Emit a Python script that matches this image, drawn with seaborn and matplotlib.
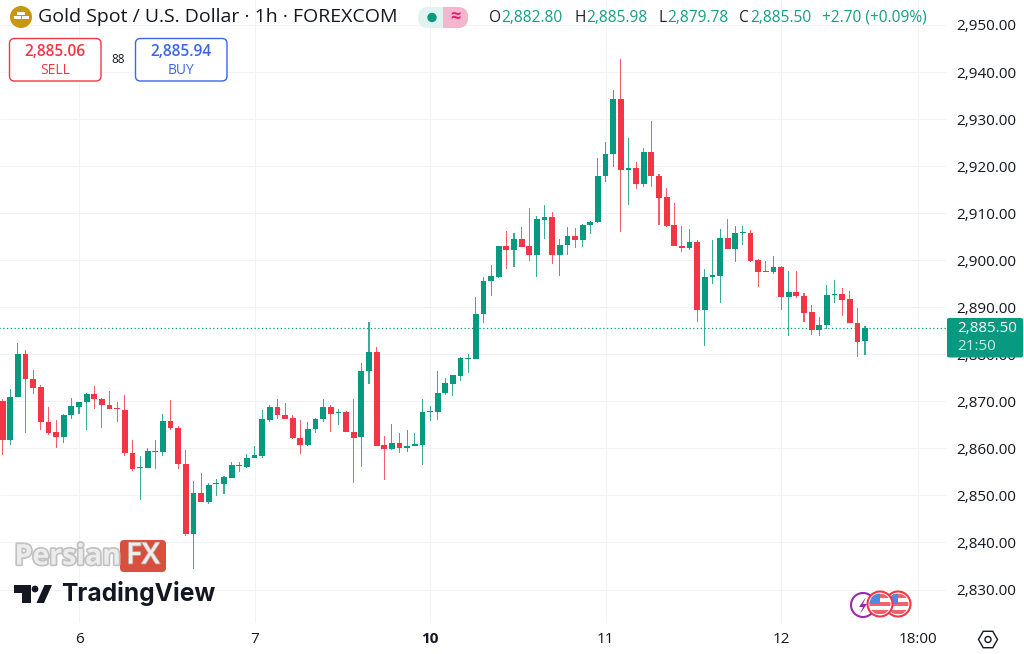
import numpy as np
import pandas as pd
import seaborn as sns
import matplotlib.pyplot as plt
from matplotlib.patches import Circle, FancyBboxPatch, Polygon, Rectangle, RegularPolygon
import matplotlib.patheffects as pe

# hourly candles
opens = [2870.1, 2861.7, 2871.0, 2880.0, 2874.8, 2873.0, 2865.5, 2863.4, 2862.5, 2867.1,
         2868.9, 2869.8, 2871.5, 2870.6, 2869.3, 2868.5, 2868.2, 2859.1, 2855.8, 2855.9,
         2859.5, 2859.2, 2865.8, 2864.4, 2856.7, 2841.9, 2850.6, 2848.7, 2852.4, 2852.5,
         2853.8, 2856.5, 2856.0, 2858.0, 2858.4, 2866.0, 2868.7, 2867.2, 2866.5, 2862.1,
         2860.7, 2864.1, 2866.2, 2868.9, 2867.6, 2867.7, 2863.5, 2862.4, 2876.5, 2880.4,
         2860.7, 2859.9, 2861.2, 2860.1, 2860.6, 2860.7, 2867.7, 2867.8, 2871.7, 2873.7,
         2875.4, 2879.0, 2879.1, 2888.5, 2895.5, 2896.5, 2903.1, 2902.2, 2904.6, 2903.0,
         2901.0, 2908.6, 2909.1, 2901.0, 2903.3, 2905.2, 2904.3, 2907.5, 2908.1, 2917.8,
         2922.6, 2934.2, 2919.2, 2919.7, 2916.3, 2923.1, 2917.8, 2913.4, 2907.4, 2903.1,
         2902.6, 2903.8, 2889.4, 2896.5, 2896.7, 2904.8, 2902.3, 2905.7, 2905.8, 2900.0,
         2897.7, 2897.5, 2898.6, 2892.1, 2893.3, 2892.4, 2888.9, 2885.2, 2886.2, 2892.6,
         2892.8, 2891.7, 2886.7, 2882.8]
highs = [2870.6, 2872.6, 2882.3, 2881.0, 2876.6, 2873.4, 2868.8, 2866.0, 2867.3, 2870.8,
         2869.9, 2871.8, 2873.3, 2870.7, 2872.2, 2869.8, 2871.3, 2861.8, 2858.4, 2860.0,
         2861.8, 2867.3, 2870.3, 2864.8, 2859.6, 2853.1, 2854.7, 2852.6, 2853.5, 2854.2,
         2857.2, 2857.2, 2858.8, 2860.4, 2868.2, 2869.2, 2870.6, 2869.6, 2867.0, 2866.0,
         2865.6, 2866.5, 2870.6, 2869.2, 2868.3, 2867.9, 2870.6, 2878.2, 2886.8, 2881.5,
         2862.6, 2865.2, 2863.3, 2863.8, 2863.3, 2870.4, 2869.0, 2876.5, 2874.9, 2875.7,
         2879.5, 2880.1, 2892.1, 2896.5, 2899.0, 2903.1, 2906.3, 2905.8, 2907.0, 2911.1,
         2909.3, 2911.7, 2910.2, 2904.5, 2907.1, 2906.8, 2907.8, 2908.4, 2921.7, 2925.2,
         2936.2, 2942.8, 2925.9, 2920.8, 2923.8, 2929.6, 2918.3, 2915.3, 2912.1, 2907.2,
         2906.6, 2904.2, 2898.2, 2904.3, 2906.6, 2908.7, 2907.2, 2907.2, 2906.5, 2900.3,
         2899.9, 2900.8, 2898.8, 2897.7, 2897.8, 2893.0, 2890.4, 2888.0, 2894.8, 2895.8,
         2894.0, 2893.4, 2889.8, 2885.98]
lows = [2858.6, 2860.7, 2871.0, 2863.2, 2871.5, 2863.8, 2862.9, 2860.0, 2861.2, 2866.2,
        2867.4, 2863.8, 2868.4, 2864.4, 2868.3, 2865.5, 2858.3, 2855.1, 2849.1, 2855.9,
        2855.7, 2858.3, 2863.8, 2855.7, 2841.3, 2834.3, 2848.7, 2848.2, 2849.9, 2850.4,
        2853.8, 2854.9, 2855.9, 2857.9, 2857.9, 2865.5, 2866.2, 2866.2, 2862.0, 2858.9,
        2860.4, 2863.2, 2865.5, 2863.5, 2865.0, 2863.4, 2852.6, 2856.1, 2873.7, 2860.6,
        2853.3, 2859.6, 2859.1, 2859.3, 2860.5, 2856.5, 2865.9, 2866.0, 2871.3, 2871.2,
        2874.4, 2876.1, 2879.1, 2886.7, 2892.3, 2896.3, 2898.2, 2898.5, 2902.9, 2899.8,
        2896.4, 2904.6, 2899.1, 2896.7, 2901.0, 2902.6, 2902.9, 2905.6, 2908.0, 2916.6,
        2919.8, 2905.9, 2911.8, 2915.2, 2915.6, 2915.5, 2907.4, 2907.0, 2903.0, 2901.8,
        2902.2, 2886.9, 2881.8, 2895.0, 2890.9, 2902.3, 2899.7, 2903.3, 2899.7, 2894.2,
        2897.5, 2897.0, 2889.4, 2883.8, 2891.9, 2886.8, 2884.0, 2883.8, 2885.3, 2890.9,
        2888.2, 2886.7, 2879.5, 2879.78]
closes = [2861.7, 2871.0, 2880.1, 2874.8, 2872.9, 2865.5, 2863.3, 2862.5, 2867.2, 2869.1,
          2869.8, 2871.5, 2870.5, 2869.2, 2868.4, 2868.4, 2859.1, 2855.7, 2856.0, 2859.4,
          2859.3, 2865.8, 2864.3, 2856.6, 2841.9, 2850.6, 2848.7, 2852.3, 2852.6, 2853.9,
          2856.4, 2856.2, 2858.0, 2858.5, 2866.2, 2868.7, 2867.1, 2866.3, 2862.1, 2860.7,
          2864.1, 2866.2, 2868.9, 2867.4, 2867.8, 2863.5, 2862.3, 2876.5, 2880.4, 2860.6,
          2859.9, 2861.2, 2860.1, 2860.5, 2860.9, 2867.7, 2867.9, 2871.8, 2873.8, 2875.5,
          2879.2, 2879.3, 2888.6, 2895.5, 2896.7, 2903.1, 2902.2, 2904.6, 2902.9, 2901.0,
          2908.8, 2909.1, 2901.0, 2903.3, 2905.2, 2904.3, 2907.5, 2908.1, 2917.8, 2922.6,
          2934.2, 2919.2, 2919.7, 2916.3, 2923.1, 2917.8, 2913.3, 2907.3, 2903.05, 2902.6,
          2903.8, 2889.4, 2896.5, 2896.8, 2904.8, 2902.3, 2905.7, 2906.0, 2899.9, 2897.5,
          2897.5, 2898.6, 2892.1, 2893.3, 2892.3, 2888.8, 2885.2, 2886.2, 2892.6, 2892.9,
          2891.6, 2886.7, 2882.6, 2885.5]

price_ticks = [2830, 2840, 2850, 2860, 2870, 2880, 2890, 2900, 2910, 2920, 2930, 2940, 2950]
time_ticks = [10, 33, 56, 79, 102, 120]
time_labels = ["6", "7", "10", "11", "12", "18:00"]
last_price = 2885.5

GREEN = "#089981"
RED = "#f23645"
BLUE = "#3b66e6"
INK = "#131722"
GRID = "#f1f2f5"

sns.set_theme(style="white")
plt.rcParams["font.family"] = ["Open Sans", "DejaVu Sans"]

df = pd.DataFrame({"open": opens, "high": highs, "low": lows, "close": closes})
df["hour"] = np.arange(len(df))
df["top"] = df[["open", "close"]].max(axis=1)
df["bottom"] = df[["open", "close"]].min(axis=1)
df["up"] = df["close"] >= df["open"]

fig = plt.figure(figsize=(10.24, 6.54), dpi=100)
ax = fig.add_axes([0, 1 - 623 / 654, 946 / 1024, 623 / 654])


def draw_candles(rows, color):
    # wick first and the body on top, both as floating bars
    sns.barplot(x=rows["hour"], y=rows["high"] - rows["low"], bottom=rows["low"].values,
                native_scale=True, width=0.14, color=color, errorbar=None,
                linewidth=0, alpha=0.8, saturation=1, ax=ax, zorder=3)
    sns.barplot(x=rows["hour"], y=rows["top"] - rows["bottom"], bottom=rows["bottom"].values,
                native_scale=True, width=0.76, color=color, errorbar=None,
                linewidth=0, saturation=1, ax=ax, zorder=4)


draw_candles(df[df["up"]], GREEN)
draw_candles(df[~df["up"]], RED)

sns.lineplot(x=[-1, 130], y=[last_price, last_price], color=GREEN, lw=0.9,
             linestyle=(0, (1, 2)), ax=ax, zorder=2)

ax.set_xlim(-0.354, 123.61)
ax.set_ylim(2822.88, 2955.31)
ax.set_xlabel("")
ax.set_ylabel("")
ax.set_yticks(price_ticks)
ax.set_yticklabels([f"{p:,.2f}" for p in price_ticks], fontsize=11, color=INK)
ax.yaxis.tick_right()
ax.set_xticks(time_ticks)
ax.set_xticklabels(time_labels, fontsize=11, color=INK)
ax.get_xticklabels()[2].set_fontweight("bold")
ax.tick_params(axis="y", length=0, pad=7.5)
ax.tick_params(axis="x", length=0, pad=6.5)
ax.grid(True, color=GRID, lw=0.72)
ax.set_axisbelow(True)
sns.despine(ax=ax, left=True, right=True, top=True, bottom=True)

# everything drawn over the chart uses picture pixels
ov = fig.add_axes([0, 0, 1, 1], zorder=10)
ov.set_xlim(0, 1024)
ov.set_ylim(654, 0)
ov.axis("off")


def box(x0, y0, x1, y1, face, edge="none", radius=5, lw=1.0):
    patch = FancyBboxPatch((x0 + radius, y0 + radius), x1 - x0 - 2 * radius, y1 - y0 - 2 * radius,
                           boxstyle=f"round,pad={radius}", fc=face, ec=edge, lw=lw)
    ov.add_patch(patch)
    return patch


# symbol line
ov.add_patch(Circle((21, 17), 11, fc="#c9960f", ec="none"))
ov.add_patch(Rectangle((17, 11.5), 8, 3, fc="white", ec="none"))
ov.add_patch(Rectangle((13.5, 16), 7, 3, fc="white", ec="none"))
ov.add_patch(Rectangle((21.5, 16), 7, 3, fc="white", ec="none"))
ov.text(38, 17.5, "Gold Spot / U.S. Dollar · 1h · FOREXCOM", fontsize=14, color=INK,
        va="center", ha="left")

pill = box(418, 7, 468, 28, "#e1f3ef", radius=10)
right_half = Rectangle((443, 7), 25, 21, fc="#f5b5cf", ec="none")
ov.add_patch(right_half)
right_half.set_clip_path(pill)
ov.add_patch(Circle((432, 17.5), 4.7, fc=GREEN, ec="none"))
ov.text(455, 17, "≈", fontsize=13, color="#e91e63", ha="center", va="center", fontweight="bold")

# ohlc readout
ohlc_parts = [(489, "O", INK), (501.5, "2,882.80", GREEN), (574, "H", INK), (586, "2,885.98", GREEN),
              (658, "L", INK), (667, "2,879.78", GREEN), (739, "C", INK), (750, "2,885.50", GREEN),
              (822, "+2.70 (+0.09%)", GREEN)]
for px, txt, col in ohlc_parts:
    ov.text(px, 18, txt, fontsize=11.2, color=col, ha="left", va="center", alpha=0.95)

# sell / buy buttons
box(9.5, 38.5, 101, 81, "white", edge=RED)
ov.text(55, 52, "2,885.06", fontsize=11.2, color=RED, ha="center", va="center", fontweight="semibold")
ov.text(55, 70, "SELL", fontsize=10, color=RED, ha="center", va="center")
ov.text(118, 59.5, "88", fontsize=8.5, color=INK, ha="center", va="center")
box(135.5, 38.5, 227, 81, "white", edge=BLUE)
ov.text(181, 52, "2,885.94", fontsize=11.2, color=BLUE, ha="center", va="center", fontweight="semibold")
ov.text(181, 70, "BUY", fontsize=10, color=BLUE, ha="center", va="center")

# last price tag
box(947, 318, 1023, 357.5, GREEN, radius=2)
ov.text(957, 328, "2,885.50", fontsize=11, color="white", ha="left", va="center")
ov.text(957, 346.5, "21:50", fontsize=11, color="#c9ebe3", ha="left", va="center")

# PersianFX watermark
ov.text(14.5, 557, "Persian", fontsize=20.5, fontweight="bold", color="#ececec", ha="left", va="center",
        path_effects=[pe.withStroke(linewidth=2.5, foreground="#c2c2c2")])
box(120, 540, 166, 572, "#d94f3d", radius=4)
ov.text(143, 556, "FX", fontsize=21, fontweight="semibold", color="#f3ece9", ha="center", va="center",
        path_effects=[pe.withStroke(linewidth=1.2, foreground="#b9a9a5")])

# TradingView logo
ov.add_patch(Polygon([(14, 585), (31, 585), (31, 603), (22, 603), (22, 592.5), (14, 592.5)], fc=INK, ec="none"))
ov.add_patch(Circle((35, 589), 3.4, fc=INK, ec="none"))
ov.add_patch(Polygon([(36.5, 603), (44, 603), (52, 585), (44.5, 585)], fc=INK, ec="none"))
ov.text(61, 594, "TradingView", fontsize=17.7, fontweight="bold", family="Inter", color=INK, ha="left", va="center")

# calendar badges, right one first
ov.add_patch(Circle((863, 605), 12, fc="white", ec="#9c27b0", lw=1.5))
ov.add_patch(Polygon([(866, 597), (859, 607), (863, 607), (860, 614), (867, 604), (863, 604)], fc="#9c27b0", ec="none"))
for cx in (898, 880):
    disc = Circle((cx, 604), 12.5, fc="white", ec=RED, lw=1.5)
    ov.add_patch(disc)
    inner = Circle((cx, 604), 10.5, transform=ov.transData)
    for sy in (594, 602, 610):
        stripe = Rectangle((cx - 11, sy), 22, 4, fc="#f0616d", ec="none")
        ov.add_patch(stripe)
        stripe.set_clip_path(inner)
    canton = Rectangle((cx - 11, 593), 11, 11, fc="#4c8be0", ec="none")
    ov.add_patch(canton)
    canton.set_clip_path(inner)

# settings button
ov.add_patch(RegularPolygon((988, 639.5), 6, radius=9.5, orientation=np.pi / 6, fc="white", ec=INK, lw=1.0))
ov.add_patch(Circle((988, 639.5), 3, fc="white", ec=INK, lw=1.0))

fig.savefig("out.png", dpi=100)
